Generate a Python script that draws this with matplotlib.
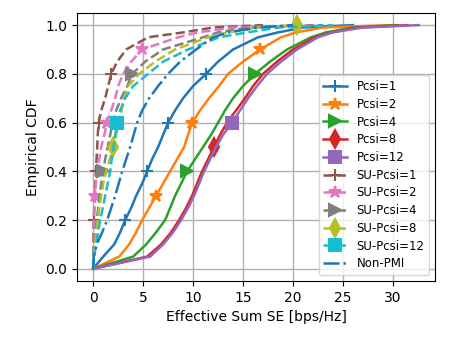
import numpy as np
from matplotlib import pyplot as plt

# CDF levels at which the quantiles of each curve were read
CDF_LEVELS = [0.0, 0.05, 0.1, 0.15, 0.2, 0.25, 0.3, 0.35, 0.4, 0.45, 0.5,
              0.55, 0.6, 0.65, 0.7, 0.75, 0.8, 0.85, 0.9, 0.95, 0.97, 0.99, 1.0]

# effective sum SE [bps/Hz] at each CDF level
PCSI_1 = [0.0, 1.0, 2.1, 2.7, 3.2, 3.8, 4.3, 4.9, 5.4, 5.9, 6.5,
          7.0, 7.5, 8.2, 9.0, 10.0, 11.3, 12.5, 14.0, 16.5, 18.5, 21.0, 26.0]
PCSI_2 = [0.0, 2.6, 3.6, 4.3, 4.9, 5.6, 6.3, 7.0, 7.7, 8.4, 9.1,
          9.5, 9.9, 10.7, 11.6, 12.6, 13.5, 15.0, 16.7, 18.8, 20.3, 23.0, 30.0]
PCSI_4 = [0.0, 4.0, 5.3, 6.3, 7.2, 7.7, 8.2, 8.8, 9.4, 10.2, 11.0,
          11.8, 12.5, 13.2, 14.0, 15.0, 16.2, 17.7, 19.4, 21.8, 23.3, 26.0, 30.5]
PCSI_8 = [0.0, 5.4, 6.8, 7.8, 8.6, 9.3, 9.9, 10.4, 10.9, 11.5, 12.1,
          12.7, 13.4, 14.3, 15.2, 16.0, 17.0, 18.4, 20.0, 22.2, 23.8, 26.5, 31.5]
PCSI_12 = [0.0, 5.7, 7.0, 8.0, 8.8, 9.5, 10.1, 10.6, 11.1, 11.7, 12.3,
           13.0, 13.9, 14.7, 15.5, 16.4, 17.4, 18.8, 20.4, 22.5, 24.0, 27.0, 32.6]
SU_PCSI_1 = [0.0, 0.0, 0.0, 0.02, 0.05, 0.1, 0.15, 0.2, 0.28, 0.33, 0.4,
             0.45, 0.55, 0.8, 1.2, 1.5, 1.8, 2.4, 3.3, 5.5, 9.0, 12.0, 17.0]
SU_PCSI_2 = [0.0, 0.0, 0.02, 0.05, 0.08, 0.12, 0.15, 0.25, 0.4, 0.6, 0.8,
             1.1, 1.4, 1.8, 2.2, 2.5, 3.0, 3.8, 4.9, 8.5, 10.5, 14.0, 22.0]
SU_PCSI_4 = [0.0, 0.02, 0.08, 0.2, 0.35, 0.5, 0.65, 0.8, 1.0, 1.2, 1.45,
             1.7, 1.95, 2.3, 2.8, 3.4, 3.9, 5.2, 7.0, 11.0, 12.5, 15.5, 23.0]
SU_PCSI_8 = [0.0, 0.05, 0.15, 0.3, 0.45, 0.6, 0.8, 1.0, 1.3, 1.65, 2.0,
             2.3, 2.6, 2.85, 3.1, 3.5, 4.6, 6.2, 8.2, 11.5, 13.5, 16.5, 20.4]
SU_PCSI_12 = [0.0, 0.1, 0.3, 0.5, 0.7, 0.95, 1.2, 1.45, 1.7, 1.85, 2.05,
              2.2, 2.4, 2.7, 3.2, 4.0, 5.5, 7.0, 9.5, 12.6, 15.4, 18.6, 24.0]
NON_PMI = [0.0, 0.05, 0.35, 0.9, 1.4, 1.8, 2.2, 2.55, 2.9, 3.3, 3.7,
           4.05, 4.4, 4.9, 5.6, 6.5, 7.5, 8.7, 10.3, 12.0, 13.5, 16.5, 20.0]

LABELS = ["Pcsi=1", "Pcsi=2", "Pcsi=4", "Pcsi=8", "Pcsi=12",
          "SU-Pcsi=1", "SU-Pcsi=2", "SU-Pcsi=4", "SU-Pcsi=8", "SU-Pcsi=12"]


def main():
    series = [PCSI_1, PCSI_2, PCSI_4, PCSI_8, PCSI_12,
              SU_PCSI_1, SU_PCSI_2, SU_PCSI_4, SU_PCSI_8, SU_PCSI_12]
    markers = ["+", "*", ">", "d", "s"] * 2
    # marker positions (indices into CDF_LEVELS)
    mark_idx = [[4, 8, 12, 16], [6, 12, 18], [8, 16], [10], [12],
                [4, 8, 12, 16], [6, 12, 18], [8, 16], [10, 22], [12]]

    levels = np.array(CDF_LEVELS)
    fig, ax = plt.subplots(figsize=(4.5, 3.49), dpi=100)
    fig.subplots_adjust(left=0.171, right=0.967, top=0.963, bottom=0.195)

    for i, (vals, label) in enumerate(zip(series, LABELS)):
        ls = "-" if i < 5 else "--"
        ax.plot(vals, levels, ls, color=f"C{i}", lw=1.8, marker=markers[i],
                markevery=mark_idx[i], ms=9, mew=1.5, label=label)
    ax.plot(NON_PMI, levels, "-.", color="C0", lw=1.8, label="Non-PMI")

    ax.set_xlabel("Effective Sum SE [bps/Hz]")
    ax.set_ylabel("Empirical CDF")
    ax.grid(True, lw=1.0)
    ax.legend(loc="lower right", fontsize=8.5, labelspacing=0.4)

    fig.savefig("out.png")


if __name__ == "__main__":
    main()
